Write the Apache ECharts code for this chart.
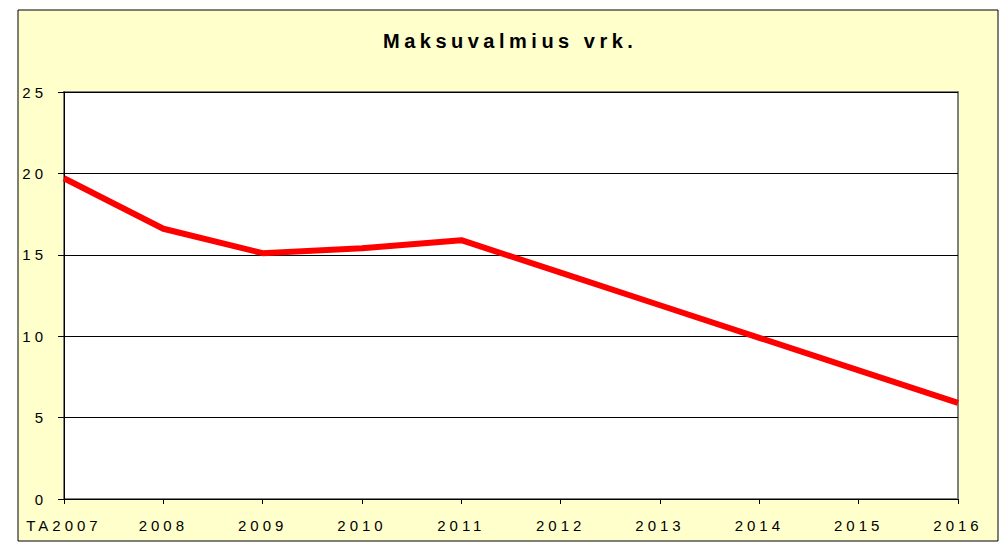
<!DOCTYPE html>
<html>
<head>
<meta charset="utf-8">
<script src="https://cdn.jsdelivr.net/npm/echarts@6/dist/echarts.min.js"></script>
<style>
  html, body { margin: 0; padding: 0; background: #fff; }
  #chart { width: 999px; height: 542px; }
  /* the original uses wide letter spacing on every text */
  #chart svg text { letter-spacing: 4px; }
  #chart svg text[style*="bold"] { letter-spacing: 4.5px; }
</style>
</head>
<body>
<div id="chart"></div>
<script>
// chart data
var titleText = "Maksuvalmius vrk.";
var years = ["TA2007", "2008", "2009", "2010", "2011", "2012", "2013", "2014", "2015", "2016"];
var values = [19.7, 16.6, 15.1, 15.4, 15.9, 13.9, 11.9, 9.9, 7.9, 5.9];

var font = "'Liberation Sans', Arial, sans-serif";

var chart = echarts.init(document.getElementById("chart"), null, { renderer: "svg" });

chart.setOption({
  animation: false,
  textStyle: { fontFamily: font },
  graphic: [
    {
      type: "rect",
      z: -10,
      shape: { x: 18, y: 10, width: 980, height: 531 },
      style: { fill: "#FFFFCC", stroke: "#000", lineWidth: 1 }
    }
  ],
  title: {
    text: titleText,
    left: 383,
    top: 31,
    padding: 0,
    textStyle: { fontFamily: font, fontSize: 20, fontWeight: "bold", color: "#000" }
  },
  grid: {
    left: 64,
    right: 41,
    top: 92,
    bottom: 43,
    show: true,
    backgroundColor: "#fff",
    borderColor: "#808080",
    borderWidth: 2
  },
  xAxis: {
    type: "category",
    data: years,
    boundaryGap: false,
    axisLine: { lineStyle: { color: "#000", width: 1 } },
    axisTick: { show: true, length: 5, lineStyle: { color: "#000" } },
    axisLabel: { color: "#000", fontSize: 15, margin: 19, interval: 0 },
    splitLine: { show: false }
  },
  yAxis: {
    type: "value",
    min: 0,
    max: 25,
    interval: 5,
    axisLine: { show: true, lineStyle: { color: "#000", width: 1 } },
    axisTick: { show: true, length: 6, lineStyle: { color: "#000" } },
    axisLabel: { color: "#000", fontSize: 15, margin: 17 },
    splitLine: { show: true, lineStyle: { color: "#000", width: 1 } }
  },
  series: [
    {
      type: "line",
      data: values,
      showSymbol: false,
      symbol: "none",
      lineStyle: { color: "#FF0000", width: 6 },
      itemStyle: { color: "#FF0000" }
    }
  ]
});
</script>
</body>
</html>
